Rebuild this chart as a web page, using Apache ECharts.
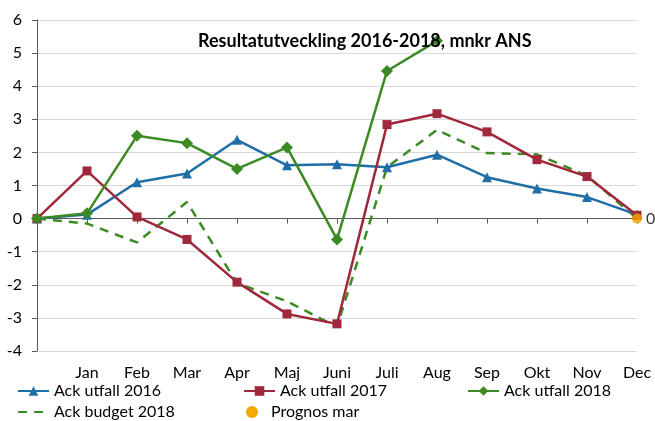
<!DOCTYPE html>
<html><head><meta charset="utf-8">
<script src="https://cdn.jsdelivr.net/npm/echarts@6/dist/echarts.min.js"></script>
<style>html,body{margin:0;padding:0;background:#fff}#c{width:655px;height:421px}</style>
</head><body><div id="c"></div>
<script>
const categories = ['', 'Jan', 'Feb', 'Mar', 'Apr', 'Maj', 'Juni', 'Juli', 'Aug', 'Sep', 'Okt', 'Nov', 'Dec'];
const utfall2016 = [0, 0.12, 1.1, 1.36, 2.38, 1.61, 1.64, 1.55, 1.93, 1.25, 0.91, 0.65, 0.12];
const utfall2017 = [0, 1.44, 0.05, -0.63, -1.92, -2.88, -3.18, 2.84, 3.17, 2.62, 1.78, 1.27, 0.1];
const utfall2018 = [0, 0.16, 2.5, 2.28, 1.5, 2.15, -0.63, 4.46, 5.37, null, null, null, null];
const budget2018 = [0, -0.15, -0.72, 0.5, -1.95, -2.5, -3.27, 1.55, 2.68, 1.98, 1.94, 1.3, 0];
const prognosMar = [null, null, null, null, null, null, null, null, null, null, null, null, 0];
const yTicks = { min: -4, max: 6, interval: 1 };

const FONT = 'Lato';
const C16 = '#1f6ea6', C17 = '#a0283c', C18 = '#3b8a24', CP = '#f5a800';
const chart = echarts.init(document.getElementById('c'));
const legendText = { color: '#000', fontSize: 16, fontFamily: FONT };
function leg(item, left, top, w) {
  return { data: [item], left: left, top: top, itemWidth: w || 31, itemHeight: 12, itemGap: 0,
    textStyle: legendText, padding: 0, selectedMode: false };
}
chart.setOption({
  animation: false,
  title: { text: 'Resultatutveckling 2016-2018, mnkr ANS', left: 193, top: 27,
    textStyle: { fontFamily: FONT, fontSize: 18, fontWeight: 'bold', color: '#000' } },
  grid: { left: 37, right: 18, top: 20, bottom: 70 },
  legend: [
    leg('Ack utfall 2016', 17, 383),
    leg('Ack utfall 2017', 243, 383),
    leg('Ack utfall 2018', 467, 383),
    leg({ name: 'Ack budget 2018', itemStyle: { opacity: 0 } }, 17, 404),
    leg({ name: 'Prognos mar', itemStyle: { opacity: 1 } }, 246, 404, 28)
  ],
  xAxis: [
    { type: 'category', data: categories, boundaryGap: false,
      axisLine: { onZero: true, lineStyle: { color: '#595959', width: 1 } },
      axisTick: { show: true, length: 5, inside: false, lineStyle: { color: '#595959' } },
      axisLabel: { show: false }, splitLine: { show: false } },
    { type: 'category', data: categories, boundaryGap: false, position: 'bottom',
      axisLine: { show: false, onZero: false }, axisTick: { show: false },
      axisLabel: { show: true, margin: 14, color: '#000', fontSize: 16, fontFamily: FONT, interval: 0 },
      splitLine: { show: false } }
  ],
  yAxis: { type: 'value', min: yTicks.min, max: yTicks.max, interval: yTicks.interval,
    axisLine: { show: true, lineStyle: { color: '#595959' } },
    axisTick: { show: true, length: 5, lineStyle: { color: '#595959' } },
    axisLabel: { color: '#000', fontSize: 16, fontFamily: FONT, margin: 15 },
    splitLine: { lineStyle: { color: '#d9d9d9', width: 1 } } },
  series: [
    { name: 'Ack utfall 2016', type: 'line', data: utfall2016, symbol: 'triangle', symbolSize: 10,
      lineStyle: { color: C16, width: 2.5 }, itemStyle: { color: C16 }, z: 3 },
    { name: 'Ack utfall 2017', type: 'line', data: utfall2017, symbol: 'rect', symbolSize: 9,
      lineStyle: { color: C17, width: 2.5 }, itemStyle: { color: C17 }, z: 4 },
    { name: 'Ack utfall 2018', type: 'line', data: utfall2018, symbol: 'diamond', symbolSize: 12,
      lineStyle: { color: C18, width: 2.5 }, itemStyle: { color: C18 }, z: 5 },
    { name: 'Ack budget 2018', type: 'line', data: budget2018, symbol: 'none',
      lineStyle: { color: C18, width: 2.5, type: [9, 7] }, itemStyle: { color: C18 }, z: 2 },
    { name: 'Prognos mar', type: 'scatter', data: prognosMar, symbol: 'circle', symbolSize: 10,
      itemStyle: { color: CP }, z: 10,
      label: { show: true, position: 'right', distance: 4, color: '#000', fontSize: 16, fontFamily: FONT,
        formatter: p => String(p.value) } }
  ]
});
</script></body></html>
